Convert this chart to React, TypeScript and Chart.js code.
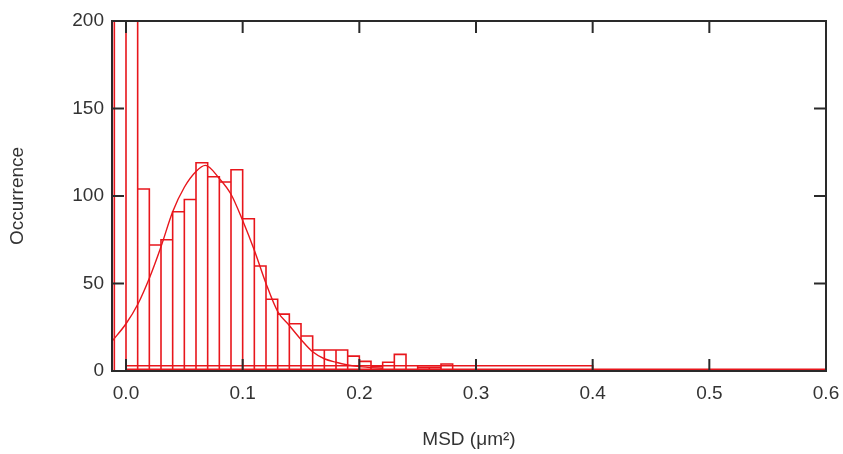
import React, { useEffect, useRef } from "react";
import { Chart, registerables } from "chart.js";

Chart.register(...registerables);

// Histogram bins (left edge, right edge, occurrence)
const binLeft = [
  -0.01, 0.0, 0.01, 0.02, 0.03, 0.04, 0.05, 0.06, 0.07, 0.08, 0.09, 0.1, 0.11, 0.12, 0.13, 0.14,
  0.15, 0.16, 0.17, 0.18, 0.19, 0.2, 0.21, 0.22, 0.23, 0.24, 0.25, 0.26, 0.27, 0.0, 0.0,
];
const binRight = [
  0.0, 0.01, 0.02, 0.03, 0.04, 0.05, 0.06, 0.07, 0.08, 0.09, 0.1, 0.11, 0.12, 0.13, 0.14, 0.15,
  0.16, 0.17, 0.18, 0.19, 0.2, 0.21, 0.22, 0.23, 0.24, 0.25, 0.26, 0.27, 0.28, 0.4, 0.6,
];
const binCount = [
  260, 240, 104, 72, 75, 91, 98, 119, 111, 108, 115, 87, 60, 41, 32.5, 27,
  20, 12, 12, 12, 8.5, 5.5, 2.5, 5, 9.5, 3, 2, 2, 4, 3, 1,
];

// Gaussian fit curve
const fitX = [
  -0.012, 0.0, 0.01, 0.02, 0.03, 0.04, 0.05, 0.06, 0.068, 0.08, 0.09, 0.1, 0.11, 0.12, 0.13,
  0.14, 0.15, 0.16, 0.17, 0.18, 0.19, 0.2, 0.22,
];
const fitY = [
  17, 27, 38, 53, 71, 91, 105, 114, 117.5, 110, 101, 86, 69, 50, 34,
  26, 18, 11, 7, 5, 3.5, 2.5, 1.5,
];

const xTickValues = [0.0, 0.1, 0.2, 0.3, 0.4, 0.5, 0.6];
const yTickValues = [0, 50, 100, 150, 200];

const X_MIN = -0.012;
const X_MAX = 0.6;
const Y_MIN = 0;
const Y_MAX = 200;

const FONT = "'Liberation Sans', Arial, sans-serif";
const TEXT_COLOR = "#333333";
const AXIS_COLOR = "#2a2a2a";
const RED = "#e8161c";

const framePlugin = {
  id: "frameTicks",
  afterDatasetsDraw(chart: any) {
    const { ctx, chartArea } = chart;
    const xs = chart.scales.x;
    const ys = chart.scales.y;
    const { left, right, top, bottom } = chartArea;
    const L = 12;
    ctx.save();
    ctx.strokeStyle = AXIS_COLOR;
    ctx.lineWidth = 2;
    ctx.strokeRect(left, top, right - left, bottom - top);
    ctx.beginPath();
    xTickValues.forEach((v) => {
      const px = xs.getPixelForValue(v);
      ctx.moveTo(px, bottom);
      ctx.lineTo(px, bottom - L);
      ctx.moveTo(px, top);
      ctx.lineTo(px, top + L);
    });
    yTickValues.forEach((v) => {
      const py = ys.getPixelForValue(v);
      ctx.moveTo(left, py);
      ctx.lineTo(left + L, py);
      ctx.moveTo(right, py);
      ctx.lineTo(right - L, py);
    });
    ctx.stroke();
    ctx.restore();
  },
};

export default function App() {
  const canvasRef = useRef<HTMLCanvasElement | null>(null);

  useEffect(() => {
    const canvas = canvasRef.current;
    if (!canvas) return;

    const histPoints: any[] = [];
    binLeft.forEach((l, i) => {
      const r = binRight[i];
      const c = binCount[i];
      histPoints.push({ x: l, y: 0 }, { x: l, y: c }, { x: r, y: c }, { x: r, y: 0 }, { x: r, y: null });
    });
    const fitPoints = fitX.map((x, i) => ({ x, y: fitY[i] }));

    const chart = new Chart(canvas, {
      type: "scatter",
      data: {
        datasets: [
          {
            data: histPoints,
            showLine: true,
            spanGaps: false,
            borderColor: RED,
            borderWidth: 1.6,
            pointRadius: 0,
            fill: false,
            tension: 0,
          },
          {
            data: fitPoints,
            showLine: true,
            borderColor: RED,
            borderWidth: 1.4,
            pointRadius: 0,
            fill: false,
            cubicInterpolationMode: "monotone",
          },
        ],
      } as any,
      options: {
        responsive: false,
        animation: false,
        layout: { padding: { left: 0, right: 17, top: 21, bottom: 0 } },
        plugins: {
          legend: { display: false },
          tooltip: { enabled: false },
        },
        scales: {
          x: {
            type: "linear",
            min: X_MIN,
            max: X_MAX,
            afterBuildTicks: (s: any) => {
              s.ticks = xTickValues.map((v) => ({ value: v }));
            },
            afterFit: (s: any) => {
              s.height = 83;
              s.paddingLeft = 0;
              s.paddingRight = 0;
            },
            grid: { display: false, drawTicks: false },
            border: { display: false },
            ticks: {
              padding: 11,
              autoSkip: false,
              maxRotation: 0,
              color: TEXT_COLOR,
              font: { family: FONT, size: 19 },
              callback: (v: any) => Number(v).toFixed(1),
            },
            title: {
              display: true,
              text: "MSD (μm²)",
              color: TEXT_COLOR,
              font: { family: FONT, size: 19 },
              padding: { top: 0, bottom: 3 },
            },
          },
          y: {
            type: "linear",
            min: Y_MIN,
            max: Y_MAX,
            afterBuildTicks: (s: any) => {
              s.ticks = yTickValues.map((v) => ({ value: v }));
            },
            afterFit: (s: any) => {
              s.width = 112;
              s.paddingTop = 0;
              s.paddingBottom = 0;
            },
            grid: { display: false, drawTicks: false },
            border: { display: false },
            ticks: {
              padding: 8,
              color: TEXT_COLOR,
              font: { family: FONT, size: 19 },
              callback: (v: any) => String(v),
            },
            title: {
              display: true,
              text: "Occurrence",
              color: TEXT_COLOR,
              font: { family: FONT, size: 19 },
              padding: { top: 6, bottom: 0 },
            },
          },
        },
      } as any,
      plugins: [framePlugin],
    });

    return () => chart.destroy();
  }, []);

  return (
    <div style={{ position: "fixed", left: 0, top: 0, width: 843, height: 454, background: "#fff" }}>
      <canvas ref={canvasRef} width={843} height={454} style={{ display: "block" }} />
    </div>
  );
}
